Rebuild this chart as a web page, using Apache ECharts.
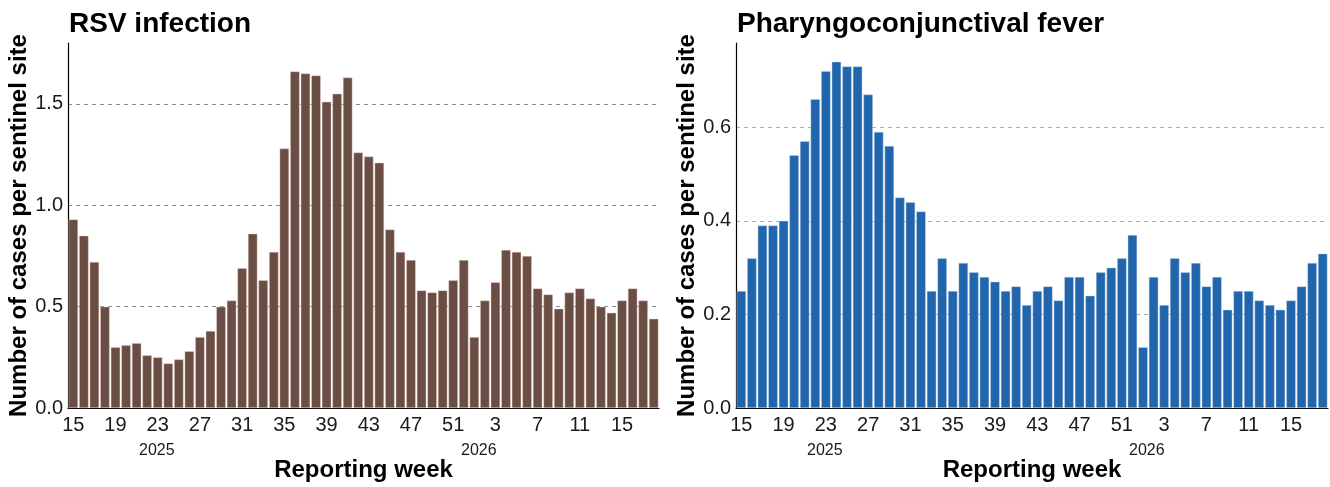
<!DOCTYPE html>
<html>
<head>
<meta charset="utf-8">
<script src="https://cdn.jsdelivr.net/npm/echarts@6/dist/echarts.min.js"></script>
<style>
  html, body { margin: 0; padding: 0; background: #fff; }
  #chart { width: 1330px; height: 487px; }
</style>
</head>
<body>
<div id="chart"></div>
<script>
// reporting weeks: 2025 w15..w52, then 2026 w1..w18
const weeks = ['15','16','17','18','19','20','21','22','23','24','25','26','27','28','29','30','31','32','33','34',
  '35','36','37','38','39','40','41','42','43','44','45','46','47','48','49','50','51','52',
  '1','2','3','4','5','6','7','8','9','10','11','12','13','14','15','16','17','18'];
const yearLabels = ['2025', '2026'];

// cases per sentinel site
const rsvValues = [0.93,0.85,0.72,0.50,0.30,0.31,0.32,0.26,0.25,0.22,0.24,0.28,0.35,0.38,0.50,0.53,0.69,0.86,0.63,0.77,
  1.28,1.66,1.65,1.64,1.51,1.55,1.63,1.26,1.24,1.21,0.88,0.77,0.73,0.58,0.57,0.58,0.63,0.73,
  0.35,0.53,0.62,0.78,0.77,0.75,0.59,0.56,0.49,0.57,0.59,0.54,0.50,0.47,0.53,0.59,0.53,0.44];
const pcfValues = [0.25,0.32,0.39,0.39,0.40,0.54,0.57,0.66,0.72,0.74,0.73,0.73,0.67,0.59,0.56,0.45,0.44,0.42,0.25,0.32,
  0.25,0.31,0.29,0.28,0.27,0.25,0.26,0.22,0.25,0.26,0.23,0.28,0.28,0.24,0.29,0.30,0.32,0.37,
  0.13,0.28,0.22,0.32,0.29,0.31,0.26,0.28,0.21,0.25,0.25,0.23,0.22,0.21,0.23,0.26,0.31,0.33];

const font = '"Liberation Sans", Arial, sans-serif';
const chart = echarts.init(document.getElementById('chart'));

function xAxisFor(idx) {
  return {
    type: 'category',
    gridIndex: idx,
    data: weeks,
    name: 'Reporting week',
    nameLocation: 'middle',
    nameGap: 50,
    nameTextStyle: { fontFamily: font, fontSize: 24, fontWeight: 'bold', color: '#000' },
    axisLine: { lineStyle: { color: '#000', width: 1.2 } },
    axisTick: { interval: 3, alignWithLabel: true, length: 3, lineStyle: { color: '#333' } },
    axisLabel: { interval: 3, margin: 7, fontFamily: font, fontSize: 20, color: '#1a1a1a' }
  };
}

function yAxisFor(idx, max, interval, gridColor) {
  return {
    type: 'value',
    gridIndex: idx,
    min: 0,
    max: max,
    interval: interval,
    name: 'Number of cases per sentinel site',
    nameLocation: 'middle',
    nameGap: 33,
    nameTextStyle: { fontFamily: font, fontSize: 24, fontWeight: 'bold', color: '#000' },
    axisLine: { show: true, lineStyle: { color: '#000', width: 1.2 } },
    axisTick: { show: false },
    axisLabel: {
      margin: 5, fontFamily: font, fontSize: 20, color: '#1a1a1a', showMaxLabel: false,
      formatter: v => v.toFixed(1)
    },
    splitLine: {
      show: true, showMinLine: false, showMaxLine: false,
      lineStyle: { color: gridColor, type: [4, 4], width: 1 }
    }
  };
}

const option = {
  animation: false,
  title: [
    { text: 'RSV infection', left: 64, top: 5, textStyle: { fontFamily: font, fontSize: 28, fontWeight: 'bold', color: '#000' } },
    { text: 'Pharyngoconjunctival fever', left: 732, top: 5, textStyle: { fontFamily: font, fontSize: 28, fontWeight: 'bold', color: '#000' } }
  ],
  grid: [
    { left: 68, right: 671, top: 43, bottom: 77 },
    { left: 736, right: 2, top: 43, bottom: 77 }
  ],
  xAxis: [xAxisFor(0), xAxisFor(1)],
  yAxis: [yAxisFor(0, 1.8, 0.5, '#8c8c8c'), yAxisFor(1, 0.78, 0.2, '#ababab')],
  series: [
    {
      type: 'bar', xAxisIndex: 0, yAxisIndex: 0, data: rsvValues,
      barCategoryGap: '10%',
      itemStyle: { color: '#6b4e43', borderColor: 'rgba(235,215,210,0.7)', borderWidth: 0.6 }
    },
    {
      type: 'bar', xAxisIndex: 1, yAxisIndex: 1, data: pcfValues,
      barCategoryGap: '10%',
      itemStyle: { color: '#2166ac', borderColor: 'rgba(200,220,240,0.7)', borderWidth: 0.6 }
    }
  ],
  graphic: [
    { type: 'text', left: 139, top: 443, style: { text: yearLabels[0], fontFamily: font, fontSize: 16, fill: '#1a1a1a' } },
    { type: 'text', left: 461, top: 443, style: { text: yearLabels[1], fontFamily: font, fontSize: 16, fill: '#1a1a1a' } },
    { type: 'text', left: 807, top: 443, style: { text: yearLabels[0], fontFamily: font, fontSize: 16, fill: '#1a1a1a' } },
    { type: 'text', left: 1129, top: 443, style: { text: yearLabels[1], fontFamily: font, fontSize: 16, fill: '#1a1a1a' } }
  ]
};

chart.setOption(option);
</script>
</body>
</html>
